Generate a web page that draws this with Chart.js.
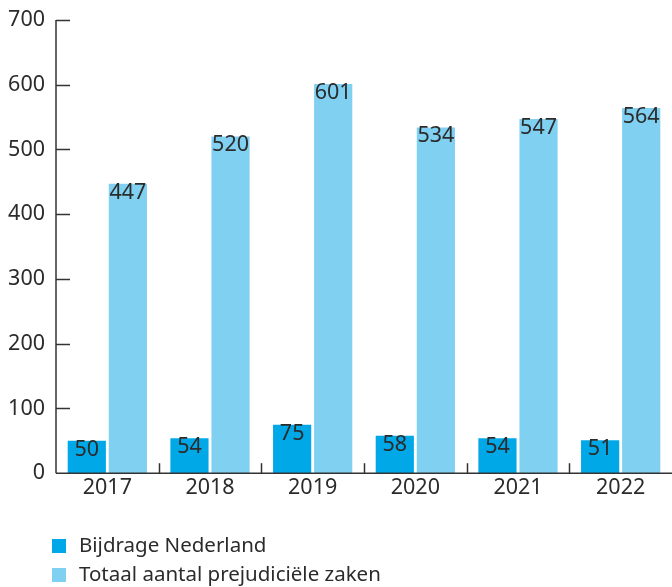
<!DOCTYPE html>
<html><head><meta charset="utf-8">
<script src="https://cdn.jsdelivr.net/npm/chart.js@4"></script>
<style>html,body{margin:0;padding:0;background:#fff}#wrap{width:672px;height:587px;position:relative}</style>
</head><body><div id="wrap"><canvas id="c" width="672" height="587"></canvas></div>
<script>
const years = ['2017','2018','2019','2020','2021','2022'];
const bijdrage = [50,54,75,58,54,51];
const totaal = [447,520,601,534,547,564];
const seriesNames = ['Bijdrage Nederland','Totaal aantal prejudiciële zaken'];
const yTicks = [0,100,200,300,400,500,600,700];

const FONT = '"Noto Sans", "Open Sans", sans-serif';
const TXT = '#2b2b2b';
const COLORS = ['#00a8e8','#80d0f2'];

const custom = {
  id:'custom',
  afterDatasetsDraw(chart){
    const ctx = chart.ctx;
    const y = chart.scales.y, x = chart.scales.x, ca = chart.chartArea;
    ctx.save();
    ctx.strokeStyle = '#333';
    ctx.lineWidth = 1.5;
    yTicks.forEach(v=>{
      if(v===0) return;
      const py = Math.round(y.getPixelForValue(v))+0.5;
      ctx.beginPath(); ctx.moveTo(ca.left, py); ctx.lineTo(ca.left+14, py); ctx.stroke();
    });
    ctx.beginPath(); ctx.moveTo(ca.left, y.getPixelForValue(700)); ctx.lineTo(ca.left, y.getPixelForValue(0)); ctx.stroke();
    ctx.beginPath(); ctx.moveTo(ca.left, y.getPixelForValue(0)); ctx.lineTo(ca.right, y.getPixelForValue(0)); ctx.stroke();
    for(let i=1;i<years.length;i++){
      const px = Math.round((x.getPixelForValue(i-1)+x.getPixelForValue(i))/2)+0.5;
      const by = y.getPixelForValue(0);
      ctx.beginPath(); ctx.moveTo(px, by); ctx.lineTo(px, by-10); ctx.stroke();
    }
    ctx.fillStyle = TXT;
    ctx.font = '21.5px '+FONT;
    ctx.textAlign = 'center';
    ctx.textBaseline = 'top';
    chart.data.datasets.forEach((ds,di)=>{
      chart.getDatasetMeta(di).data.forEach((bar,i)=>{
        ctx.fillText(String(ds.data[i]), bar.x, bar.y-2);
      });
    });
    ctx.textAlign = 'left';
    ctx.textBaseline = 'middle';
    ctx.font = '20.5px '+FONT;
    seriesNames.forEach((n,i)=>{
      const ly = 546 + i*29;
      ctx.fillStyle = COLORS[i];
      ctx.fillRect(52, ly-7, 14, 14);
      ctx.fillStyle = TXT;
      ctx.fillText(n, 79, ly);
    });
    ctx.restore();
  }
};

new Chart(document.getElementById('c'), {
  type:'bar',
  data:{
    labels: years,
    datasets:[
      {label:seriesNames[0], data:bijdrage, backgroundColor:COLORS[0], categoryPercentage:0.8, barPercentage:0.93},
      {label:seriesNames[1], data:totaal, backgroundColor:COLORS[1], categoryPercentage:0.8, barPercentage:0.93}
    ]
  },
  options:{
    responsive:false,
    animation:false,
    layout:{padding:{top:4, right:0, bottom:84, left:0}},
    plugins:{legend:{display:false}, tooltip:{enabled:false}},
    scales:{
      x:{
        grid:{display:false, drawTicks:false},
        border:{display:false},
        ticks:{color:TXT, font:{family:FONT, size:21.5}, padding:2}
      },
      y:{
        min:0, max:700,
        afterFit(s){ s.width = 56; s.paddingTop = 20; },
        grid:{display:false, drawTicks:false},
        border:{display:false},
        ticks:{stepSize:100, color:TXT, font:{family:FONT, size:21.5}, padding:11,
          callback:(v)=> yTicks.includes(v) ? String(v) : ''}
      }
    }
  },
  plugins:[custom]
});
</script></body></html>
